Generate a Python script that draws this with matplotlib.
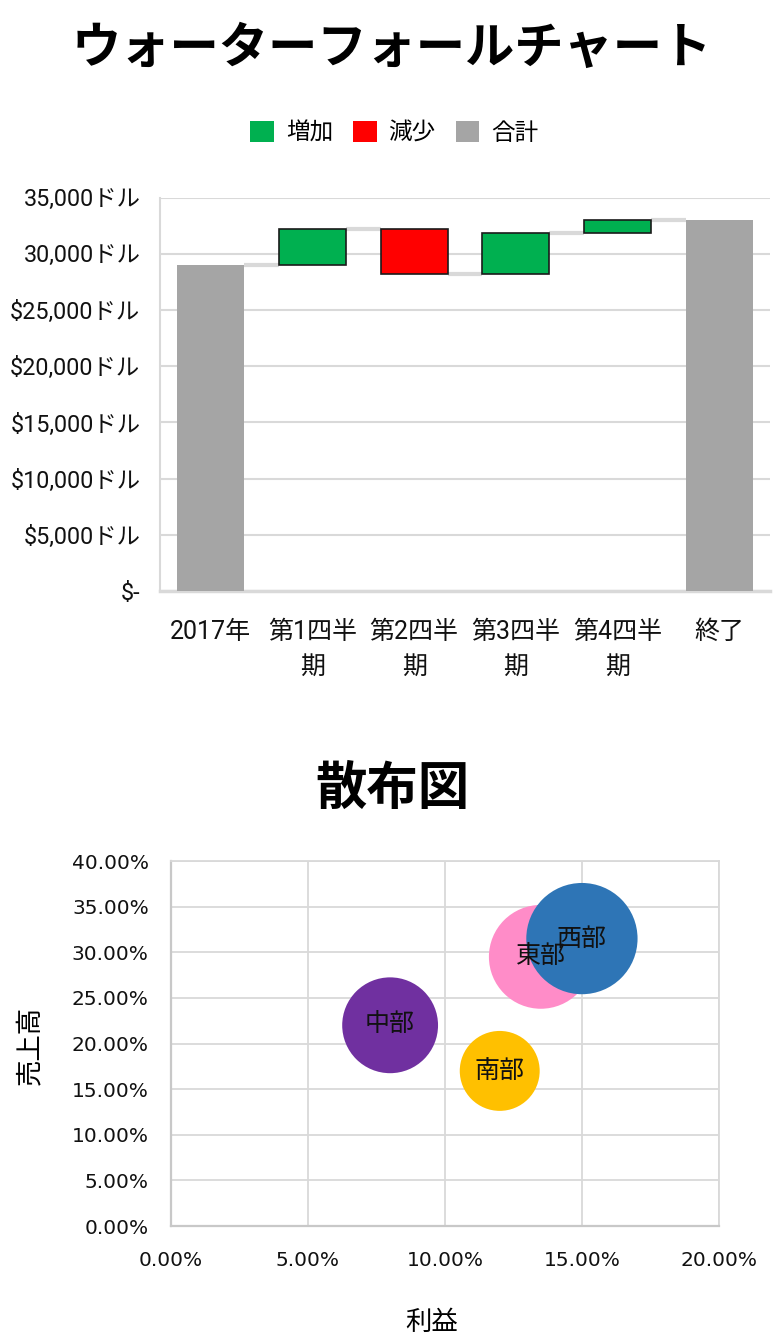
import matplotlib
matplotlib.use("Agg")
import matplotlib.pyplot as plt
from matplotlib.patches import Patch
from matplotlib.ticker import FixedLocator, FixedFormatter

plt.rcParams['font.family'] = ['Roboto', 'Noto Sans CJK JP', 'DejaVu Sans']

# ---------------- data ----------------
wf_categories = ["2017年", "第1四半\n期", "第2四半\n期", "第3四半\n期", "第4四半\n期", "終了"]
wf_start = 29000
wf_changes = [3250, -4000, 3650, 1100]
wf_yticks = [0, 5000, 10000, 15000, 20000, 25000, 30000, 35000]
wf_yticklabels = ["$-", "$5,000ドル", "$10,000ドル", "$15,000ドル", "$20,000ドル",
                  "$25,000ドル", "30,000ドル", "35,000ドル"]
legend_labels = ["増加", "減少", "合計"]

sc_regions = ["中部", "南部", "東部", "西部"]
sc_profit = [0.08, 0.12, 0.135, 0.15]
sc_sales = [0.22, 0.17, 0.295, 0.315]
sc_bubble = [23, 16, 27, 31]
sc_ticks_x = [0.0, 0.05, 0.10, 0.15, 0.20]
sc_ticks_y = [0.0, 0.05, 0.10, 0.15, 0.20, 0.25, 0.30, 0.35, 0.40]

# ---------------- style ----------------
GREEN = "#00B050"
RED = "#FF0000"
GRAY = "#A5A5A5"
GRID = "#D9D9D9"
bubble_colors = ["#7030A0", "#FFC000", "#FF8CC8", "#2E75B6"]

fig = plt.figure(figsize=(7.84, 13.37), dpi=100)

# ---------------- waterfall ----------------
ax = fig.add_axes([0.204, 0.558, 0.778, 0.294])
w = 0.66
x = list(range(len(wf_categories)))
end_val = wf_start + sum(wf_changes)

ax.bar(0, wf_start, width=w, color=GRAY, zorder=3)
running = wf_start
for i, ch in enumerate(wf_changes, start=1):
    bottom = min(running, running + ch)
    ax.bar(i, abs(ch), bottom=bottom, width=w,
           color=GREEN if ch > 0 else RED, edgecolor="#1a1a1a", linewidth=1.2, zorder=3)
    running += ch
ax.bar(len(wf_categories) - 1, end_val, width=w, color=GRAY, zorder=3)

# connectors
conn_levels = [wf_start]
run = wf_start
for ch in wf_changes:
    run += ch
    conn_levels.append(run)
for i, lv in enumerate(conn_levels):
    ax.plot([i + w / 2, i + 1 - w / 2], [lv, lv], color=GRID, lw=3, zorder=2,
            solid_capstyle='butt')

ax.set_xlim(-0.5, len(wf_categories) - 0.5)
ax.set_ylim(0, 35000)
ax.yaxis.set_major_locator(FixedLocator(wf_yticks))
ax.yaxis.set_major_formatter(FixedFormatter(wf_yticklabels))
ax.set_xticks(x)
ax.set_xticklabels(wf_categories, fontsize=18, linespacing=1.55)
ax.tick_params(axis='y', length=0, pad=14, labelsize=16.8, colors="#111111")
ax.tick_params(axis='x', length=0, pad=21, colors="#111111")
ax.grid(axis='y', color=GRID, lw=1.5, zorder=0)
ax.set_axisbelow(True)
for s in ['top', 'right']:
    ax.spines[s].set_visible(False)
ax.spines['left'].set_color(GRID)
ax.spines['left'].set_linewidth(1.5)
ax.spines['bottom'].set_color(GRID)
ax.spines['bottom'].set_linewidth(2.5)

fig.text(0.5, 1 - 48 / 1337, "ウォーターフォールチャート", ha='center', va='center',
         fontsize=35.5, fontweight='bold', family=['Noto Sans CJK JP'])

handles = [Patch(facecolor=GREEN), Patch(facecolor=RED), Patch(facecolor=GRAY)]
fig.legend(handles, legend_labels, loc='center', bbox_to_anchor=(0.503, 1 - 133 / 1337),
           ncol=3, frameon=False, handlelength=1.0, handleheight=1.0,
           handletextpad=0.5, columnspacing=0.85,
           prop={'family': ['Noto Sans CJK JP'], 'size': 17})

# ---------------- scatter ----------------
ax2 = fig.add_axes([0.218, 0.083, 0.699, 0.273])
sizes = [b * 207 for b in sc_bubble]
for xi, yi, si, c in zip(sc_profit, sc_sales, sizes, bubble_colors):
    ax2.scatter(xi, yi, s=si, color=c, edgecolors='none', zorder=3)
for xi, yi, name in zip(sc_profit, sc_sales, sc_regions):
    ax2.text(xi, yi, name, ha='center', va='center', fontsize=18, color="#111111",
             family=['Noto Sans CJK JP'], zorder=5)

ax2.set_xlim(0, 0.20)
ax2.set_ylim(0, 0.40)
ax2.xaxis.set_major_locator(FixedLocator(sc_ticks_x))
ax2.yaxis.set_major_locator(FixedLocator(sc_ticks_y))
ax2.xaxis.set_major_formatter(FixedFormatter([f"{v*100:.2f}%" for v in sc_ticks_x]))
ax2.yaxis.set_major_formatter(FixedFormatter([f"{v*100:.2f}%" for v in sc_ticks_y]))
for lab in ax2.get_xticklabels() + ax2.get_yticklabels():
    lab.set_family(['DejaVu Sans'])
ax2.tick_params(axis='x', length=0, pad=18, labelsize=14.5, colors="#111111")
ax2.tick_params(axis='y', length=0, pad=16, labelsize=14.5, colors="#111111")
ax2.grid(True, color=GRID, lw=1.3, zorder=0)
ax2.set_axisbelow(True)
for s in ['top', 'right']:
    ax2.spines[s].set_color(GRID)
    ax2.spines[s].set_linewidth(1.3)
for s in ['left', 'bottom']:
    ax2.spines[s].set_color("#C8C8C8")
    ax2.spines[s].set_linewidth(1.6)

fig.text(0.5, 1 - 788 / 1337, "散布図", ha='center', va='center',
         fontsize=37, fontweight='bold', family=['Noto Sans CJK JP'])
fig.text(30 / 784, 1 - 1045 / 1337, "売上高", ha='center', va='center', rotation=90,
         fontsize=19, family=['Noto Sans CJK JP'])
fig.text(432 / 784, 1 - 1322 / 1337, "利益", ha='center', va='center',
         fontsize=19, family=['Noto Sans CJK JP'])

fig.savefig("out.png", dpi=100)
